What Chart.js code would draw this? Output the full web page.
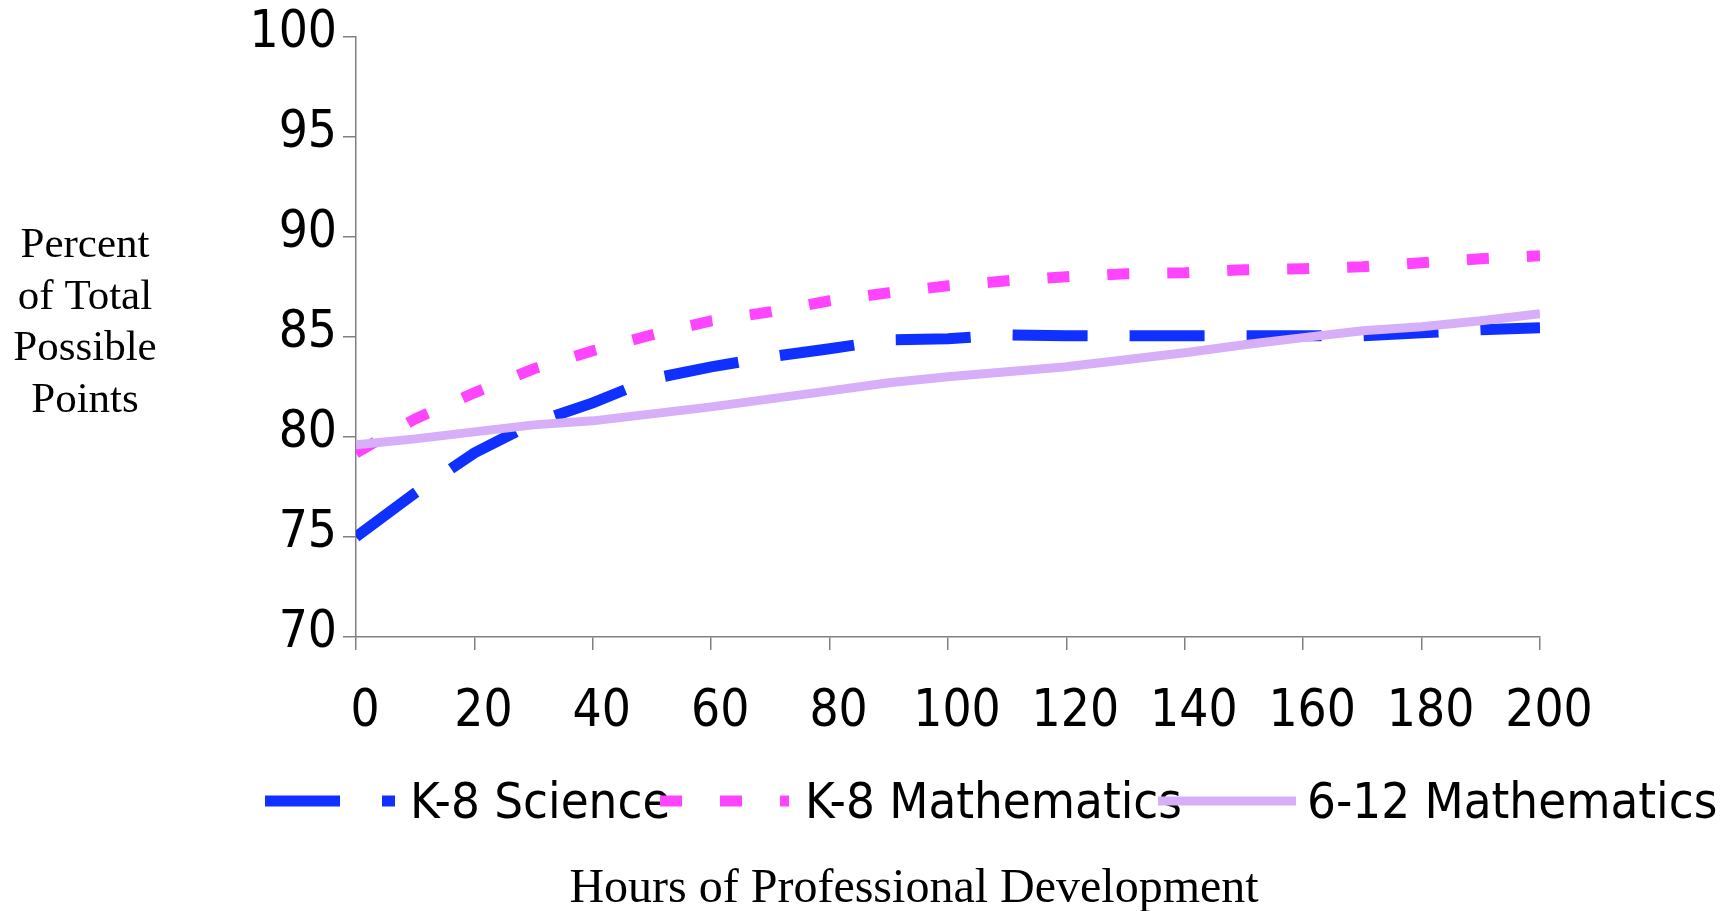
<!DOCTYPE html>
<html>
<head>
<meta charset="utf-8">
<title>Hours of Professional Development</title>
<script src="https://cdn.jsdelivr.net/npm/chart.js@4.4.1/dist/chart.umd.min.js"></script>
<style>
  html, body { margin: 0; padding: 0; background: #fff; }
</style>
</head>
<body>
<canvas id="chartPD" width="1730" height="911"></canvas>
<script>
// values, one point every 10 hours
const hours = [0, 10, 20, 30, 40, 50, 60, 70, 80, 90, 100, 110, 120, 130, 140, 150, 160, 170, 180, 190, 200]
const scienceK8 = [75.0, 77.2, 79.2, 80.7, 81.7, 82.9, 83.5, 84.0, 84.4, 84.85, 84.9, 85.1, 85.05, 85.05, 85.05, 85.05, 85.05, 85.05, 85.2, 85.35, 85.45]
const mathK8 = [79.2, 80.9, 82.2, 83.4, 84.3, 85.1, 85.8, 86.25, 86.8, 87.2, 87.55, 87.8, 88.0, 88.15, 88.2, 88.35, 88.4, 88.5, 88.7, 88.9, 89.05]
const math612 = [79.6, 79.9, 80.25, 80.6, 80.8, 81.15, 81.5, 81.9, 82.3, 82.7, 83.0, 83.25, 83.5, 83.85, 84.2, 84.6, 84.96, 85.3, 85.5, 85.8, 86.15]
const seriesNames = ['K-8 Science', 'K-8 Mathematics', '6-12 Mathematics']
const yTitleLines = ['Percent', 'of Total', 'Possible', 'Points']
const xTitle = 'Hours of Professional Development'

const sansFont = "'DejaVu Sans Condensed', 'DejaVu Sans', sans-serif"
const serifFont = "'Liberation Serif', 'Times New Roman', serif"

function toPoints(values) {
    return hours.map((h, i) => ({ x: h, y: values[i] }))
}

// titles and legend are drawn by hand, the reference lays them out its own way
const textPlugin = {
    id: 'textPlugin',
    afterDraw(chart) {
        const ctx = chart.ctx
        ctx.save()
        ctx.fillStyle = '#000'
        ctx.textAlign = 'center'
        ctx.textBaseline = 'middle'
        ctx.font = '43px ' + serifFont
        yTitleLines.forEach((line, i) => ctx.fillText(line, 85, 246 + i * 51.5))
        ctx.font = '48px ' + serifFont
        ctx.fillText(xTitle, 914, 889)

        const slots = [[265, 395, 410], [660, 789, 805], [1158, 1296, 1307]]
        chart.data.datasets.forEach((ds, i) => {
            const [x0, x1, tx] = slots[i]
            ctx.beginPath()
            ctx.setLineDash(ds.borderDash || [])
            ctx.lineWidth = ds.borderWidth
            ctx.strokeStyle = ds.borderColor
            ctx.lineCap = 'butt'
            ctx.moveTo(x0, 801)
            ctx.lineTo(x1, 801)
            ctx.stroke()
            ctx.setLineDash([])
            ctx.font = '50.5px ' + sansFont
            ctx.textAlign = 'left'
            ctx.fillText(ds.label, tx, 805)
        })
        ctx.restore()
    }
}

const axisGrey = '#808080'

var ctxPD = document.getElementById('chartPD').getContext('2d');
var chartPD = new Chart(ctxPD, {
    type: 'line',
    data: {
        datasets: [
            {
                label: seriesNames[0],
                data: toPoints(scienceK8),
                borderColor: '#1030FF',
                borderWidth: 11,
                borderDash: [75, 42],
                pointRadius: 0,
                fill: false,
                tension: 0,
                order: 1
            },
            {
                label: seriesNames[1],
                data: toPoints(mathK8),
                borderColor: '#FF44FF',
                borderWidth: 11,
                borderDash: [22, 38],
                pointRadius: 0,
                fill: false,
                tension: 0,
                order: 2
            },
            {
                label: seriesNames[2],
                data: toPoints(math612),
                borderColor: '#D7AFF9',
                borderWidth: 9,
                pointRadius: 0,
                fill: false,
                tension: 0,
                order: 0
            }
        ]
    },
    options: {
        responsive: false,
        animation: false,
        layout: { padding: { top: 36, right: 190, bottom: 0, left: 0 } },
        plugins: {
            legend: { display: false },
            tooltip: { enabled: false }
        },
        scales: {
            x: {
                type: 'linear',
                min: 0,
                max: 200,
                ticks: {
                    stepSize: 20,
                    autoSkip: false,
                    maxRotation: 0,
                    color: '#000',
                    padding: 32,
                    labelOffset: 9,
                    font: { family: sansFont, size: 51 }
                },
                grid: { drawOnChartArea: false, drawTicks: true, tickLength: 13, color: axisGrey, lineWidth: 1.5 },
                border: { display: true, color: axisGrey, width: 1.5 },
                afterFit(scale) { scale.height = 274 }
            },
            y: {
                min: 70,
                max: 100,
                ticks: {
                    stepSize: 5,
                    color: '#000',
                    padding: 6,
                    labelOffset: -3,
                    font: { family: sansFont, size: 51 }
                },
                grid: { drawOnChartArea: false, drawTicks: true, tickLength: 13, color: axisGrey, lineWidth: 1.5 },
                border: { display: true, color: axisGrey, width: 1.5 },
                afterFit(scale) { scale.width = 356 }
            }
        }
    },
    plugins: [textPlugin]
});
</script>
</body>
</html>
